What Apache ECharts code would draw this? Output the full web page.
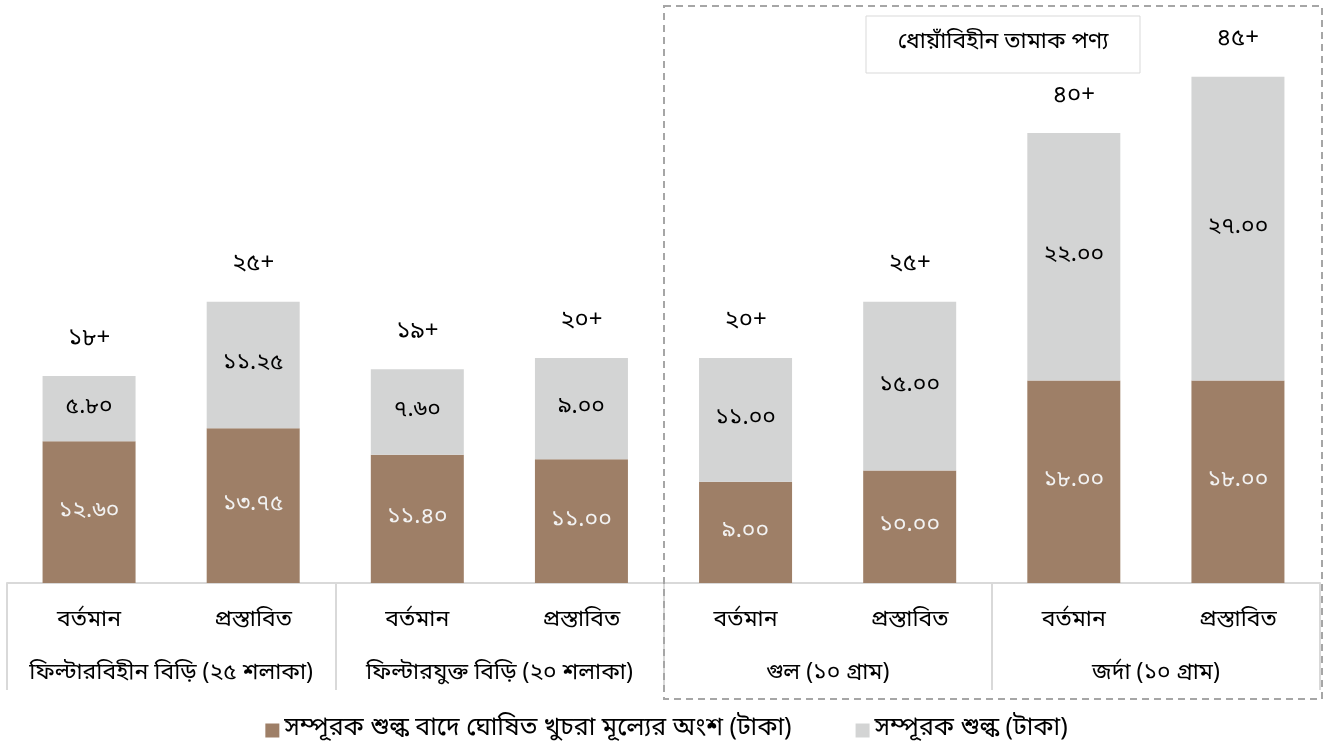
<!DOCTYPE html>
<html lang="bn">
<head>
    <meta charset="UTF-8">
    <title>সম্পূরক শুল্ক</title>
    <style>
        html, body { margin: 0; padding: 0; background: #ffffff; }
        #chart { width: 1333px; height: 749px; }
    </style>
</head>
<body>
    <div id="chart"></div>
    <script src="https://cdn.jsdelivr.net/npm/echarts@6/dist/echarts.min.js"></script>
    <script>
        // ডেটা
        const barLabels = ['বর্তমান', 'প্রস্তাবিত', 'বর্তমান', 'প্রস্তাবিত', 'বর্তমান', 'প্রস্তাবিত', 'বর্তমান', 'প্রস্তাবিত'];
        const groupLabels = ['ফিল্টারবিহীন বিড়ি (২৫ শলাকা)', 'ফিল্টারযুক্ত বিড়ি (২০ শলাকা)', 'গুল (১০ গ্রাম)', 'জর্দা (১০ গ্রাম)'];
        const retailShare = [12.60, 13.75, 11.40, 11.00, 9.00, 10.00, 18.00, 18.00];
        const supplementaryDuty = [5.80, 11.25, 7.60, 9.00, 11.00, 15.00, 22.00, 27.00];
        const retailPrice = [18, 25, 19, 20, 20, 25, 40, 45];
        const seriesNames = ['সম্পূরক শুল্ক বাদে ঘোষিত খুচরা মূল্যের অংশ (টাকা)', 'সম্পূরক শুল্ক (টাকা)'];

        const font = "'Noto Sans Bengali', 'Noto Sans', sans-serif";
        const bnDigits = '০১২৩৪৫৬৭৮৯';
        function toBn(s) {
            return String(s).replace(/[0-9]/g, d => bnDigits[+d]);
        }

        const chart = echarts.init(document.getElementById('chart'));
        chart.setOption({
            animation: false,
            textStyle: { fontFamily: font },
            grid: { left: 7, right: 13, top: 20.5, bottom: 166 },
            legend: {
                bottom: 1,
                left: 'center',
                itemWidth: 14,
                itemHeight: 14,
                itemGap: 64,
                icon: 'rect',
                textStyle: { fontSize: 25, color: '#000', fontFamily: font },
                data: seriesNames
            },
            xAxis: [
                {
                    type: 'category',
                    data: barLabels,
                    axisLine: { lineStyle: { color: '#d9d9d9', width: 2 } },
                    axisTick: { show: false },
                    axisLabel: { margin: 27, fontSize: 23, color: '#000', interval: 0 }
                },
                {
                    type: 'category',
                    position: 'bottom',
                    data: groupLabels,
                    axisLine: { show: false },
                    axisTick: { show: true, length: 107, lineStyle: { color: '#d9d9d9', width: 2 } },
                    axisLabel: { margin: 80, fontSize: 23, color: '#000', interval: 0 }
                }
            ],
            yAxis: {
                type: 'value',
                min: 0,
                max: 50,
                show: false
            },
            graphic: [
                {
                    type: 'rect',
                    shape: { x: 664, y: 6, width: 658, height: 693 },
                    style: { fill: 'none', stroke: '#a6a6a6', lineWidth: 2, lineDash: [7, 5] },
                    z: 10
                },
                {
                    type: 'rect',
                    shape: { x: 866, y: 16, width: 274, height: 57 },
                    style: { fill: '#fff', stroke: '#d9d9d9', lineWidth: 1 },
                    z: 10
                },
                {
                    type: 'text',
                    x: 1003,
                    y: 44,
                    style: {
                        text: 'ধোয়াঁবিহীন তামাক পণ্য',
                        fontSize: 23,
                        fontFamily: font,
                        fill: '#000',
                        align: 'center',
                        verticalAlign: 'middle'
                    },
                    z: 11
                }
            ],
            series: [
                {
                    name: seriesNames[0],
                    type: 'bar',
                    stack: 'price',
                    barWidth: 93,
                    data: retailShare,
                    itemStyle: { color: '#9e7f67' },
                    label: {
                        show: true,
                        position: 'inside',
                        color: '#f2f2f2',
                        fontSize: 23,
                        formatter: p => toBn(p.value.toFixed(2))
                    }
                },
                {
                    name: seriesNames[1],
                    type: 'bar',
                    stack: 'price',
                    barWidth: 93,
                    data: supplementaryDuty,
                    itemStyle: { color: '#d3d4d4' },
                    label: {
                        show: true,
                        position: 'inside',
                        color: '#000',
                        fontSize: 23,
                        formatter: p => toBn(p.value.toFixed(2))
                    }
                },
                {
                    name: 'total',
                    type: 'bar',
                    stack: 'price',
                    barWidth: 93,
                    data: retailPrice.map(() => 0),
                    itemStyle: { color: 'transparent' },
                    label: {
                        show: true,
                        position: 'top',
                        distance: 24,
                        color: '#000',
                        fontSize: 24,
                        formatter: p => toBn(retailPrice[p.dataIndex]) + '+'
                    }
                }
            ]
        });
    </script>
</body>
</html>
